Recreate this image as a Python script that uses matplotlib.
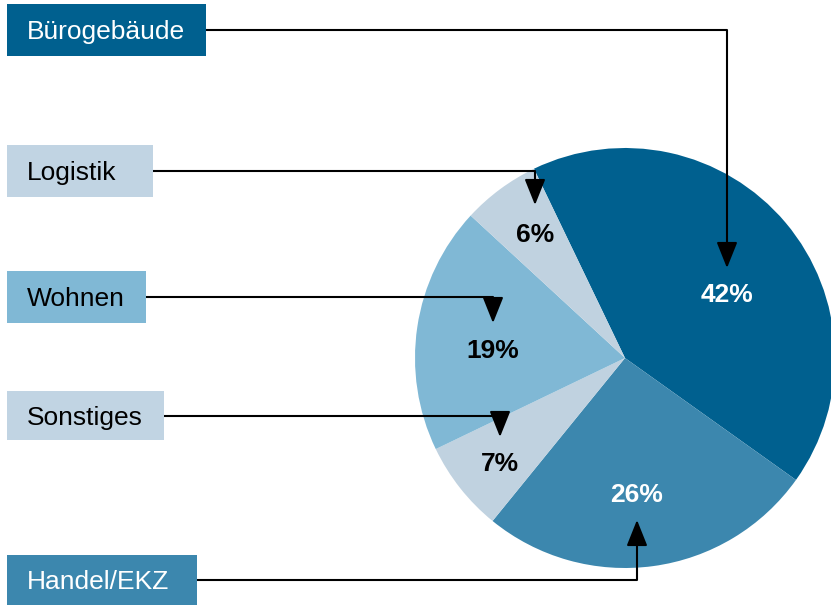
import matplotlib.pyplot as plt
from matplotlib.patches import Rectangle

plt.rcParams['font.family'] = ['Liberation Sans', 'DejaVu Sans']

# ---------------- data ----------------
categories = ["Bürogebäude", "Handel/EKZ", "Sonstiges", "Wohnen", "Logistik"]
shares = [42, 26, 7, 19, 6]
pct_labels = ["42%", "26%", "7%", "19%", "6%"]
slice_colors = ["#00608f", "#3c87ae", "#c0d2e0", "#80b8d5", "#c0d2e0"]
text_colors = ["white", "white", "black", "black", "black"]
box_colors = ["#00608f", "#3c87ae", "#c1d4e3", "#80b8d5", "#c1d4e3"]

# ---------------- layout (pixel coords, y from top) ----------------
W, H = 831, 606
pie_center = (625, 358)
pie_radius = 210
start_angle = 115.7

# label boxes: x0, y0, x1, y1
boxes = [(7, 4, 206, 56), (7, 555, 197, 605), (7, 391, 164, 440),
         (7, 271, 146, 323), (7, 145, 153, 197)]
# percentage text positions
pct_pos = [(727, 295), (637, 495), (500, 464), (493, 351), (535, 235)]
# connector: x of vertical drop, arrow tip y
arrow_x = [727, 637, 500, 493, 535]
arrow_tip_y = [268, 520, 437, 323, 205]


def fy(y):
    return H - y


fig = plt.figure(figsize=(W / 100, H / 100), dpi=100)
ax = fig.add_axes([0, 0, 1, 1])

ax.pie(shares, colors=slice_colors, startangle=start_angle, counterclock=False,
       center=(pie_center[0], fy(pie_center[1])), radius=pie_radius,
       wedgeprops=dict(linewidth=0), frame=False)

for i, name in enumerate(categories):
    x0, y0, x1, y1 = boxes[i]
    ax.add_patch(Rectangle((x0, fy(y1)), x1 - x0, y1 - y0,
                           facecolor=box_colors[i], edgecolor="none", zorder=3))
    ax.text(x0 + 20, fy((y0 + y1) / 2 + 2), name, color=text_colors[i],
            fontsize=19, ha="left", va="center", zorder=4)

    # connector line from box to drop point
    ym = (y0 + y1) / 2
    ax.plot([x1, arrow_x[i]], [fy(ym), fy(ym)], color="black", lw=1.5,
            solid_capstyle="butt", zorder=4)
    ax.annotate("", xy=(arrow_x[i], fy(arrow_tip_y[i])), xytext=(arrow_x[i], fy(ym)),
                arrowprops=dict(arrowstyle="-|>,head_length=0.8,head_width=0.32",
                                color="black", lw=1.5, shrinkA=0, shrinkB=0,
                                mutation_scale=20), zorder=5)

    px, py = pct_pos[i]
    ax.text(px, fy(py), pct_labels[i], color=text_colors[i], fontsize=19,
            fontweight="bold", ha="center", va="center", zorder=4)

ax.set_xlim(0, W)
ax.set_ylim(0, H)
ax.set_aspect("auto")
ax.axis("off")

fig.savefig("out.png", dpi=100)
